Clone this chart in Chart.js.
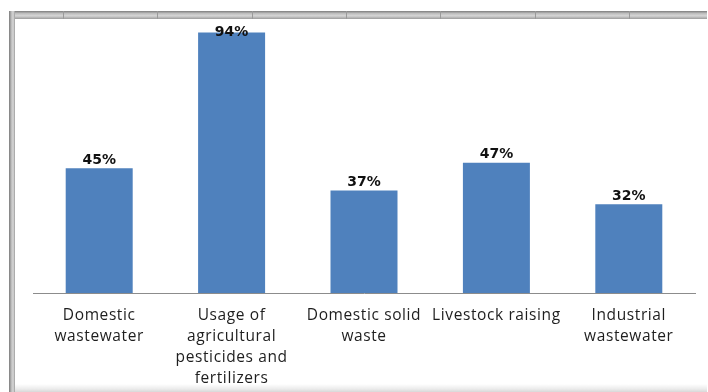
<!DOCTYPE html>
<html>
<head>
<meta charset="utf-8">
<title>Pollution sources</title>
<script src="https://cdn.jsdelivr.net/npm/chart.js@4/dist/chart.umd.min.js"></script>
<style>
  html, body { margin: 0; padding: 0; background: #fff; }
  #wrap { position: relative; width: 708px; height: 392px; overflow: hidden; }
  #chart { position: absolute; left: 0; top: 0; }
  /* sheet frame around the chart */
  .band { position: absolute; pointer-events: none; }
  #bandTop {
    left: 9px; top: 11px; width: 698px; height: 8px;
    background:
      repeating-linear-gradient(90deg, transparent 0px, transparent 54px, #9a9a9a 54px, #9a9a9a 55px, transparent 55px, transparent 94.3px),
      linear-gradient(#7c7c7c, #bdbdbd 30%, #d6d6d6 60%, #9c9c9c);
  }
  #bandLeft {
    left: 9px; top: 11px; width: 6px; height: 381px;
    background: linear-gradient(90deg, #7c7c7c, #c4c4c4 45%, #d6d6d6 70%, #9c9c9c);
  }
  #bandBottom {
    left: 15px; top: 384px; width: 692px; height: 8px;
    background: linear-gradient(#ffffff, #ececec 60%, #d8d8d8);
  }
</style>
</head>
<body>
<div id="wrap">
  <canvas id="chart" width="708" height="392"></canvas>
  <div class="band" id="bandTop"></div>
  <div class="band" id="bandLeft"></div>
  <div class="band" id="bandBottom"></div>
</div>
<script>
"use strict"

var categories = [
    ["Domestic", "wastewater"],
    ["Usage of", "agricultural", "pesticides and", "fertilizers"],
    ["Domestic solid", "waste"],
    ["Livestock raising"],
    ["Industrial", "wastewater"]
];
var percentages = [45, 94, 37, 47, 32];

// a bit of extra tracking for the category labels
var spacing = {
    id: 'spacing',
    beforeDraw: function(chart){
        chart.ctx.letterSpacing = '0.6px';
    },
    afterDraw: function(chart){
        chart.ctx.letterSpacing = '0px';
    }
};

// value labels above each bar, kept below the top edge of the frame
var barLabels = {
    id: 'barLabels',
    afterDatasetsDraw: function(chart){
        var ctx = chart.ctx;
        var meta = chart.getDatasetMeta(0);
        ctx.save();
        ctx.letterSpacing = '0px';
        ctx.font = 'bold 14px "DejaVu Sans"';
        ctx.fillStyle = '#111';
        ctx.textAlign = 'center';
        ctx.textBaseline = 'bottom';
        meta.data.forEach(function(bar, i){
            var y = Math.max(bar.y - 1, 39);
            ctx.fillText(percentages[i] + '%', bar.x, y);
        });
        ctx.restore();
    }
};

var chartArea = document.getElementById("chart");
var barChart = new Chart(chartArea, {
    type: 'bar',
    data: {
        labels: categories,
        datasets: [
            {
                label: "Share",
                data: percentages,
                backgroundColor: "#4F81BD",
                borderWidth: 0,
                categoryPercentage: 1,
                barPercentage: 0.506
            }
        ]
    },
    options: {
        responsive: false,
        animation: false,
        layout: {
            padding: { left: 33, right: 13, top: 16, bottom: 0 }
        },
        plugins: {
            legend: { display: false },
            tooltip: { enabled: false }
        },
        scales: {
            y: {
                display: false,
                min: 0,
                max: 100
            },
            x: {
                grid: { display: false, drawTicks: false },
                border: { display: true, color: '#8c8c8c', width: 1 },
                ticks: {
                    color: '#1e1e1e',
                    font: { family: '"Open Sans"', size: 15.5, lineHeight: 1.36 },
                    padding: 12,
                    maxRotation: 0,
                    autoSkip: false
                },
                afterFit: function(scale){
                    scale.height = 99;
                }
            }
        }
    },
    plugins: [spacing, barLabels]
});
</script>
</body>
</html>
